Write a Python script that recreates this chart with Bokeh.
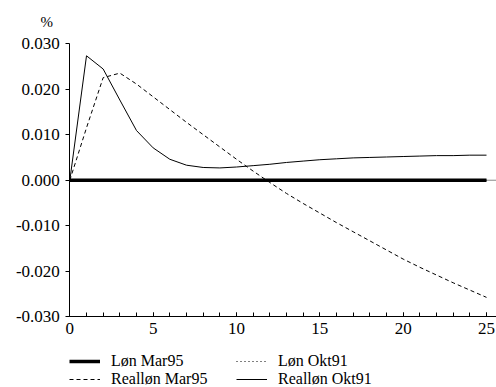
from bokeh.plotting import figure
from bokeh.models import (Range1d, FixedTicker, SingleIntervalTicker, PrintfTickFormatter,
                          Legend, LegendItem, Label)
from bokeh.embed import file_html
from bokeh.resources import INLINE

# ---- data ----
periods = [0, 1, 2, 3, 4, 5, 6, 7, 8, 9, 10, 11, 12, 13, 14, 15, 16, 17, 18, 19, 20, 21, 22, 23, 24, 25]
lon_mar95 = [0.0, 0.0, 0.0, 0.0, 0.0, 0.0, 0.0, 0.0, 0.0, 0.0, 0.0, 0.0, 0.0,
             0.0, 0.0, 0.0, 0.0, 0.0, 0.0, 0.0, 0.0, 0.0, 0.0, 0.0, 0.0, 0.0]
lon_okt91 = [0.0, 0.0, 0.0, 0.0, 0.0, 0.0, 0.0, 0.0, 0.0, 0.0, 0.0, 0.0, 0.0,
             0.0, 0.0, 0.0, 0.0, 0.0, 0.0, 0.0, 0.0, 0.0, 0.0, 0.0, 0.0, 0.0]
reallon_mar95 = [0.0, 0.0115, 0.0225, 0.0235, 0.0211, 0.0183, 0.0155, 0.0127, 0.0100, 0.0073,
                 0.0046, 0.0020, -0.0005, -0.0029, -0.0051, -0.0072, -0.0093, -0.0113,
                 -0.0133, -0.0153, -0.0173, -0.0191, -0.0208, -0.0225, -0.0241, -0.0257]
reallon_okt91 = [0.0, 0.0273, 0.0244, 0.0176, 0.0109, 0.0071, 0.0046, 0.0033, 0.0028, 0.0027,
                 0.0029, 0.0032, 0.0035, 0.0039, 0.0042, 0.0045, 0.0047, 0.0049, 0.0050,
                 0.0051, 0.0052, 0.0053, 0.0054, 0.0054, 0.0055, 0.0055]
y_ticks = [-0.030, -0.020, -0.010, 0.0, 0.010, 0.020, 0.030]
y_min, y_max = -0.030, 0.030
x_min, x_max = 0, 25.6
series_names = ["Løn Mar95", "Løn Okt91", "Realløn Mar95", "Realløn Okt91"]
unit_label = "%"

FONT = "Liberation Serif"

# The frame covers the whole page; both axes are pinned inside it so that the
# tick labels, the unit label and the legend are all drawn unclipped.
p = figure(frame_width=496, frame_height=387, output_backend="svg", toolbar_location=None,
           x_range=Range1d(-4.16, x_max), y_range=Range1d(-0.04547, 0.03943),
           min_border_left=0, min_border_right=0, min_border_top=0, min_border_bottom=0)
p.grid.visible = False
p.outline_line_color = None
p.background_fill_color = "white"
p.border_fill_color = "white"

# x axis
xa = p.xaxis[0]
xa.fixed_location = y_min
xa.bounds = (x_min, x_max)
xa.ticker = SingleIntervalTicker(interval=5, num_minor_ticks=5)
xa.major_tick_in = 4
xa.major_tick_out = 0
xa.minor_tick_in = 4
xa.minor_tick_out = 0
xa.major_tick_line_color = "black"
xa.minor_tick_line_color = "black"
xa.axis_line_color = "black"
xa.major_label_text_font = FONT
xa.major_label_text_font_size = "17px"
xa.major_label_text_color = "black"
xa.major_label_standoff = 6

# y axis
ya = p.yaxis[0]
ya.fixed_location = x_min
ya.bounds = (y_min, y_max)
ya.ticker = FixedTicker(ticks=y_ticks)
ya.formatter = PrintfTickFormatter(format="%.3f")
ya.major_tick_in = 0
ya.major_tick_out = 4
ya.minor_tick_line_color = None
ya.major_tick_line_color = "black"
ya.axis_line_color = "black"
ya.major_label_text_font = FONT
ya.major_label_text_font_size = "17px"
ya.major_label_text_color = "black"
ya.major_label_standoff = 6

# thin zero reference line across the axis extent
p.segment(x0=[x_min], y0=[0.0], x1=[x_max], y1=[0.0], line_color="#888888", line_width=1)

r2 = p.line(periods, lon_okt91, line_color="black", line_width=1, line_dash="1 3")
r1 = p.line(periods, lon_mar95, line_color="black", line_width=3.5)
r3 = p.line(periods, reallon_mar95, line_color="black", line_width=1, line_dash="4 3")
r4 = p.line(periods, reallon_okt91, line_color="black", line_width=1)

# unit label above the y axis
p.add_layout(Label(x=x_min, y=y_max, x_offset=-23, y_offset=21, text=unit_label,
                   text_align="center", text_baseline="middle",
                   text_font=FONT, text_font_size="15px", text_color="black"))

# column-major fill: col 1 = Mar95 series, col 2 = Okt91 series
legend = Legend(items=[LegendItem(label=series_names[0], renderers=[r1]),
                       LegendItem(label=series_names[2], renderers=[r3]),
                       LegendItem(label=series_names[1], renderers=[r2]),
                       LegendItem(label=series_names[3], renderers=[r4])],
                ncols=2, location=(69, -1), orientation="vertical",
                label_text_font=FONT, label_text_font_size="16px", label_text_color="black",
                glyph_width=31, glyph_height=18, label_height=18, label_width=125,
                spacing=0, padding=0, margin=0, label_standoff=11,
                border_line_color=None, background_fill_alpha=0)
p.add_layout(legend, "center")

open("out.html", "w").write(file_html(p, INLINE))
